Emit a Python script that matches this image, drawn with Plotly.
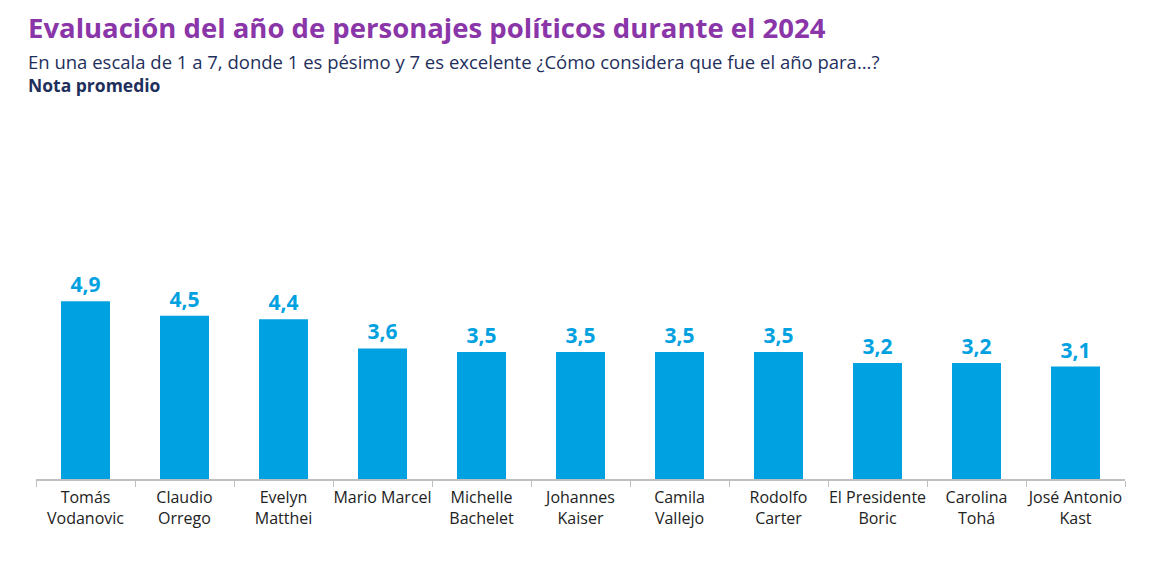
import plotly.graph_objects as go

categories = ["Tomás<br>Vodanovic", "Claudio<br>Orrego", "Evelyn<br>Matthei", "Mario Marcel",
              "Michelle<br>Bachelet", "Johannes<br>Kaiser", "Camila<br>Vallejo", "Rodolfo<br>Carter",
              "El Presidente<br>Boric", "Carolina<br>Tohá", "José Antonio<br>Kast"]
values = [4.9, 4.5, 4.4, 3.6, 3.5, 3.5, 3.5, 3.5, 3.2, 3.2, 3.1]
value_labels = [f"{v:.1f}".replace(".", ",") for v in values]

title = "Evaluación del año de personajes políticos durante el 2024"
subtitle = "En una escala de 1 a 7, donde 1 es pésimo y 7 es excelente ¿Cómo considera que fue el año para...?"
subtitle2 = "Nota promedio"

BLUE = "#00A1E0"
PURPLE = "#8A35A8"
NAVY = "#1F2F5C"
FONT = "Open Sans, Lato, sans-serif"

fig = go.Figure(go.Bar(
    x=categories, y=values, marker_color=BLUE, marker_line_width=0,
    text=value_labels, textposition="outside", cliponaxis=False,
    textfont=dict(family=FONT, size=21, color=BLUE, weight="bold"),
))

fig.update_layout(
    width=1169, height=562,
    margin=dict(l=28, r=52, t=102, b=91, autoexpand=False),
    paper_bgcolor="white", plot_bgcolor="white",
    bargap=0.505, showlegend=False,
    font=dict(family=FONT),
    annotations=[
        dict(text=f"<b>{title}</b>", xref="paper", yref="paper", x=0, y=1.0,
             xanchor="left", yanchor="middle", xshift=-10, yshift=83, showarrow=False,
             font=dict(size=27.5, color=PURPLE, family=FONT)),
        dict(text=subtitle, xref="paper", yref="paper", x=0, y=1.0,
             xanchor="left", yanchor="middle", xshift=-10, yshift=49, showarrow=False,
             font=dict(size=18.5, color=NAVY, family=FONT)),
        dict(text=f"<b>{subtitle2}</b>", xref="paper", yref="paper", x=0, y=1.0,
             xanchor="left", yanchor="middle", xshift=-10, yshift=25, showarrow=False,
             font=dict(size=17.5, color=NAVY, family=FONT)),
    ],
)
fig.update_xaxes(showline=True, linecolor="#BFBFBF", linewidth=1.5, tickangle=0,
                 ticks="outside", tickson="boundaries", ticklen=6, tickcolor="#BFBFBF",
                 tickfont=dict(size=16, color="#222222", family=FONT), showgrid=False,
                 ticklabelstandoff=3, automargin=False)
fig.update_yaxes(range=[0, 10.17], visible=False, showgrid=False, zeroline=False)

fig.write_html("out.html")
